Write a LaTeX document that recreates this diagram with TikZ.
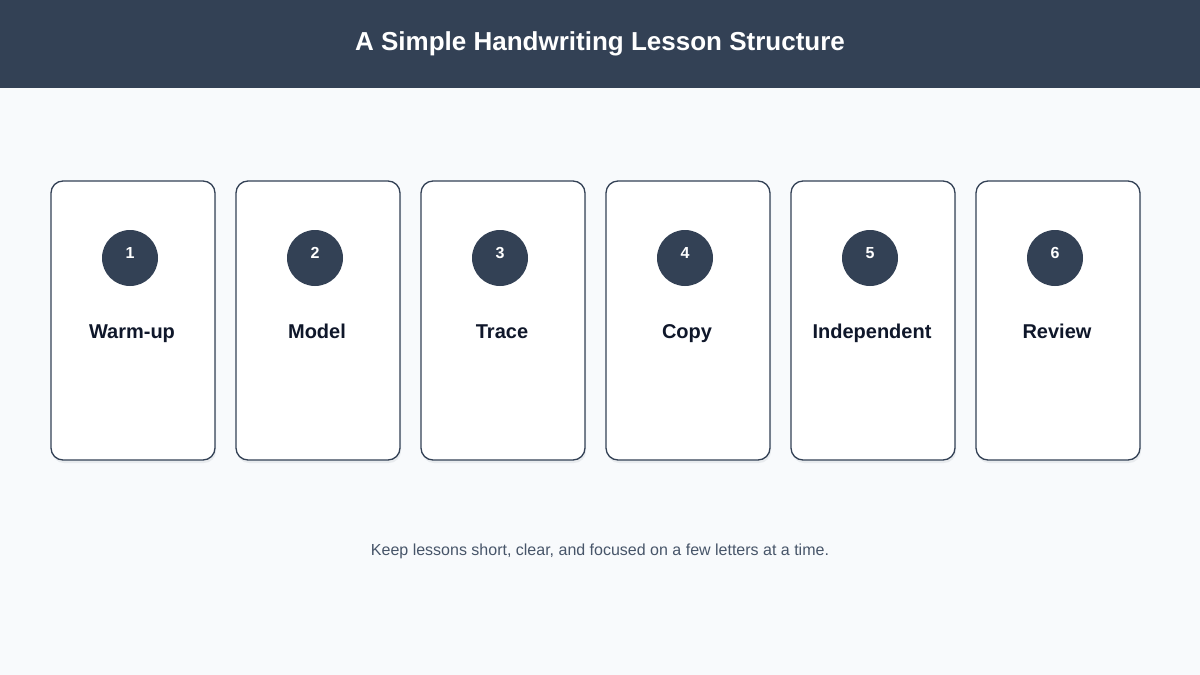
\documentclass[tikz,border=0pt]{standalone}
\usepackage{fontspec}
\setmainfont{Liberation Sans}
\usetikzlibrary{shadows}
\definecolor{slate}{RGB}{51,65,85}
\definecolor{pagebg}{RGB}{248,250,252}
\definecolor{ink}{RGB}{15,23,42}
\definecolor{note}{RGB}{71,85,105}
\begin{document}
\begin{tikzpicture}[x=1pt,y=-1pt]
  \tikzstyle{card}=[draw=slate,line width=1.3pt,fill=white,rounded corners=12pt,minimum width=164pt,minimum height=279pt,inner sep=0pt,drop shadow={shadow xshift=1pt,shadow yshift=-3pt,opacity=0.08,fill=slate}]
  \tikzstyle{badge}=[shape=circle,fill=slate,minimum size=56pt,inner sep=0pt]
  \tikzstyle{num}=[anchor=base,text=white,font=\bfseries\fontsize{16}{18}\selectfont]
  \tikzstyle{lbl}=[anchor=base,text=ink,font=\bfseries\fontsize{20}{24}\selectfont]
  % page and header band
  \fill[pagebg] (0,0) rectangle (1200,675);
  \fill[slate] (0,0) rectangle (1200,88);
  \node[anchor=base,text=white,font=\bfseries\fontsize{26}{30}\selectfont] (title) at (600,50) {A Simple Handwriting Lesson Structure};
  % the six stages
  \foreach \i/\stage in {1/Warm-up,2/Model,3/Trace,4/Copy,5/Independent,6/Review}{
    \pgfmathsetmacro\cx{133+185*(\i-1)}
    \node[card] (card\i) at (\cx,320.5) {};
    \node[badge] (badge\i) at (\cx-3,258) {};
    \node[num] (num\i) at (\cx-3,258) {\i};
    \node[lbl] (stage\i) at (\cx-1,338) {\stage};
  }
  \node[anchor=base,text=note,font=\fontsize{16}{20}\selectfont] (footer) at (600,555) {Keep lessons short, clear, and focused on a few letters at a time.};
\end{tikzpicture}
\end{document}
